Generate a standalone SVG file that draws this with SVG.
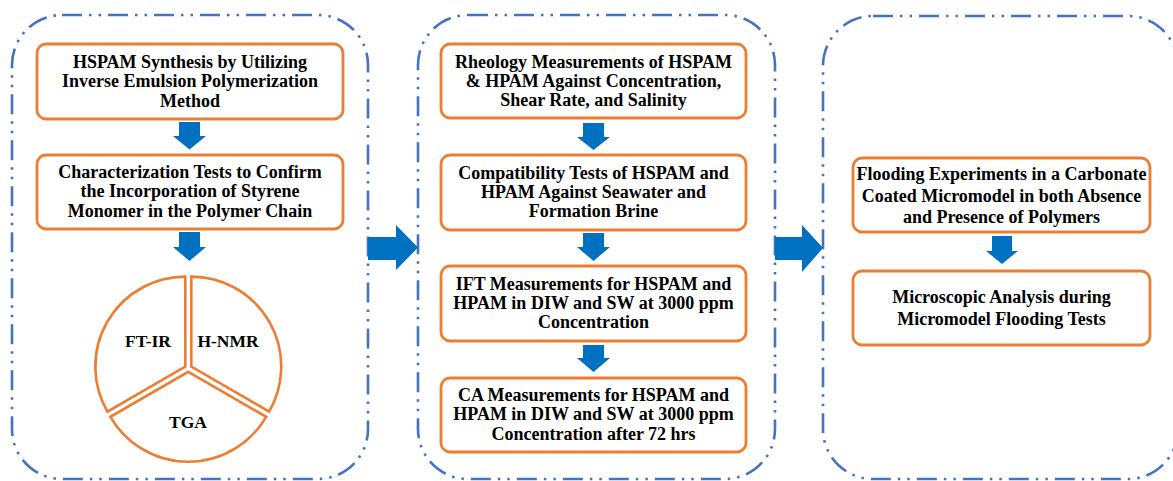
<svg xmlns="http://www.w3.org/2000/svg" width="1173" height="481" viewBox="0 0 1173 481">
<defs>
<style>
.panel{fill:none;stroke:#4472C4;stroke-width:2.6;stroke-dasharray:20 7 2.5 7 2.5 7}
.box{fill:#fff;stroke:#ED7D31;stroke-width:2.8}
.pie{fill:#fff;stroke:#ED7D31;stroke-width:2.6;stroke-linejoin:miter}
.arr{fill:#0070C0}
text{font-family:"Liberation Serif","Times New Roman",serif;font-weight:bold;font-size:18px;fill:#000;text-anchor:middle}
.pl{font-size:17.5px}
</style>
</defs>
<rect width="1173" height="481" fill="#fff"/>
<g id="panels">
<rect id="panel1" class="panel" x="12" y="15" width="356" height="464" rx="50"/>
<rect id="panel2" class="panel" x="418" y="15" width="357" height="464" rx="50"/>
<rect id="panel3" class="panel" x="823" y="16" width="355" height="463" rx="50"/>
</g>
<g id="connectors">
<path class="arr" d="M179,122 H200 V136 H206 L189.5,149.5 L173,136 H179 Z"/>
<path class="arr" d="M179,232 H200 V247 H206 L189.5,261 L173,247 H179 Z"/>
<path class="arr" d="M583,123 H604 V137 H610 L593.5,150 L577,137 H583 Z"/>
<path class="arr" d="M583,233 H604 V247 H610 L593.5,261 L577,247 H583 Z"/>
<path class="arr" d="M583,345 H604 V358 H610 L593.5,372 L577,358 H583 Z"/>
<path class="arr" d="M992,236 H1012 V251 H1018 L1002,264 L986,251 H992 Z"/>
<path class="arr" d="M368,237 H396 V225 L418,247.5 L396,270 V260 H368 Z"/>
<path class="arr" d="M775,237 H802 V225 L823,248 L802,272 V260 H775 Z"/>
</g>
<g id="node-hspam-synthesis">
<rect class="box" x="37" y="44" width="306" height="75" rx="9"/>
<text x="190" y="68">HSPAM Synthesis by Utilizing</text>
<text x="190" y="87.3">Inverse Emulsion Polymerization</text>
<text x="190" y="106.5">Method</text>
</g>
<g id="node-characterization">
<rect class="box" x="37" y="155" width="306" height="74" rx="9"/>
<text x="190" y="177.5">Characterization Tests to Confirm</text>
<text x="190" y="197">the Incorporation of Styrene</text>
<text x="190" y="216.5">Monomer in the Polymer Chain</text>
</g>
<g id="node-pie">
<path class="pie" d="M185.3,366.6 L185.3,276.6 A90,90 0 0 0 107.4,411.6 Z"/>
<path class="pie" d="M191.3,366.6 L191.3,276.6 A90,90 0 0 1 269.2,411.6 Z"/>
<path class="pie" d="M188.3,371.8 L266.2,416.8 A90,90 0 0 1 110.4,416.8 Z"/>
<text class="pl" x="148" y="347">FT-IR</text>
<text class="pl" x="228" y="347">H-NMR</text>
<text class="pl" x="188" y="428">TGA</text>
</g>
<g id="node-rheology">
<rect class="box" x="441" y="44" width="305" height="74" rx="9"/>
<text x="593.5" y="68.3">Rheology Measurements of HSPAM</text>
<text x="593.5" y="87.3">&amp; HPAM Against Concentration,</text>
<text x="593.5" y="106">Shear Rate, and Salinity</text>
</g>
<g id="node-compatibility">
<rect class="box" x="441" y="155" width="305" height="75" rx="9"/>
<text x="593.5" y="179">Compatibility Tests of HSPAM and</text>
<text x="593.5" y="198.3">HPAM Against Seawater and</text>
<text x="593.5" y="216.7">Formation Brine</text>
</g>
<g id="node-ift">
<rect class="box" x="441" y="266" width="305" height="75" rx="9"/>
<text x="593.5" y="290">IFT Measurements for HSPAM and</text>
<text x="593.5" y="309">HPAM in DIW and SW at 3000 ppm</text>
<text x="593.5" y="328.3">Concentration</text>
</g>
<g id="node-ca">
<rect class="box" x="441" y="378" width="305" height="74" rx="9"/>
<text x="593.5" y="401">CA Measurements for HSPAM and</text>
<text x="593.5" y="420">HPAM in DIW and SW at 3000 ppm</text>
<text x="593.5" y="439.5">Concentration after 72 hrs</text>
</g>
<g id="node-flooding">
<rect class="box" x="853" y="158" width="297" height="74" rx="9"/>
<text x="1001.5" y="179.5">Flooding Experiments in a Carbonate</text>
<text x="1001.5" y="201.5">Coated Micromodel in both Absence</text>
<text x="1001.5" y="223">and Presence of Polymers</text>
</g>
<g id="node-microscopic">
<rect class="box" x="853" y="271" width="297" height="74" rx="9"/>
<text x="1001.5" y="303">Microscopic Analysis during</text>
<text x="1001.5" y="324.5">Micromodel Flooding Tests</text>
</g>
</svg>
